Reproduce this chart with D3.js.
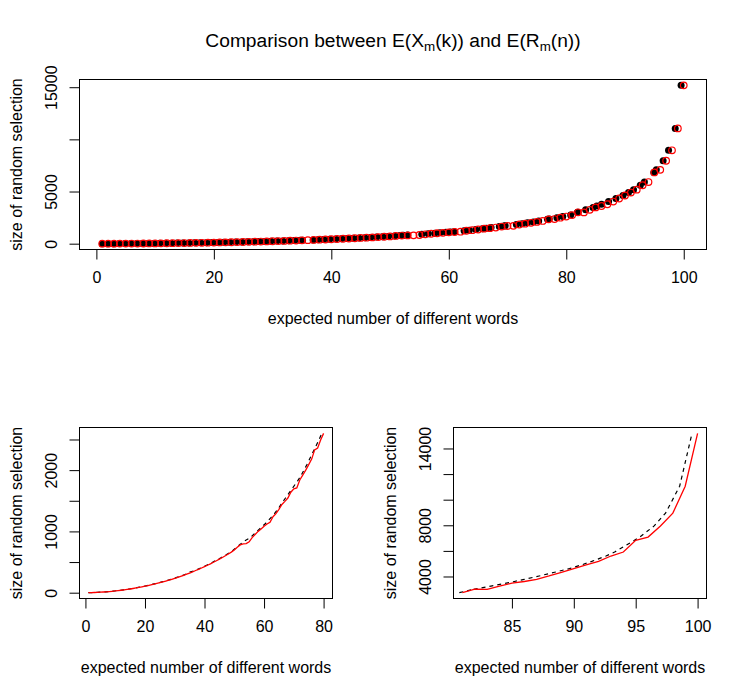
<!DOCTYPE html>
<html><head><meta charset="utf-8">
<script src="https://cdn.jsdelivr.net/npm/d3@7"></script>
<style>body{margin:0;background:#fff} text{font-family:"Liberation Sans",Arial,Helvetica,sans-serif;fill:#000}</style>
</head><body><svg id="c" width="747" height="698"></svg>
<script>
// ---- data ----
// k: expected number of different words
const kValues = d3.range(1, 101);
// E(X_m(k)) : red
const expectedX = [
  1, 2, 3.5, 5.5, 8, 11, 14.5, 18.5, 23, 28,
  33.5, 39.5, 46, 53, 60.5, 68.5, 77, 86, 95.5, 105.5,
  116, 127, 138.5, 150.5, 163, 176, 189.5, 203.5, 218, 233,
  249, 266, 283.5, 301.5, 320.5, 338, 362, 381, 402.5, 424.5,
  447.5, 471.5, 496.5, 522, 548, 575, 603, 632, 662, 696,
  740, 780, 795, 800, 830, 900, 950, 1000, 1040, 1085,
  1120, 1150, 1240, 1290, 1360, 1440, 1490, 1545, 1640, 1695,
  1710, 1840, 1920, 2000, 2090, 2180, 2330, 2360, 2490, 2600,
  2740, 3010, 3000, 3250, 3480, 3610, 3780, 4040, 4330, 4620,
  4900, 5180, 5600, 5910, 6830, 7080, 7950, 8950, 11050, 15180
];
// E(R_m(n)) evaluated at n = the sizes above : black (x values)
const expectedR = [
  1.0, 1.97, 2.95, 3.93, 4.9, 5.88, 6.86, 7.84, 8.82, 9.8,
  10.78, 11.77, 12.75, 13.74, 14.73, 15.72, 16.71, 17.7, 18.7, 19.7,
  20.7, 21.7, 22.7, 23.7, 24.7, 25.7, 26.7, 27.7, 28.7, 29.7,
  30.7, 31.7, 32.7, 33.7, 34.7, 35.1, 36.9, 37.7, 38.7, 39.7,
  40.7, 41.7, 42.7, 43.7, 44.7, 45.7, 46.7, 47.7, 48.7, 49.7,
  50.75, 51.7, 52.1, 52.25, 53.0, 55.4, 56.5, 57.6, 58.5, 59.5,
  60.3, 60.9, 62.6, 63.5, 64.6, 65.7, 66.4, 67.2, 68.6, 69.4,
  69.6, 71.5, 72.5, 73.4, 74.4, 75.3, 76.8, 77.1, 78.4, 79.4,
  80.75, 81.95, 81.9, 83.3, 84.55, 85.2, 86.0, 87.2, 88.45, 89.65,
  90.6, 91.45, 92.6, 93.3, 94.9, 95.33, 96.49, 97.41, 98.55, 99.55
];
// ticks and labels
const topXTicks = [0, 20, 40, 60, 80, 100];
const topXLabels = ["0", "20", "40", "60", "80", "100"];
const topYTicks = [0, 5000, 10000, 15000];
const topYLabels = ["0", "5000", "", "15000"];
const blXTicks = [0, 20, 40, 60, 80];
const blXLabels = ["0", "20", "40", "60", "80"];
const blYTicks = [0, 500, 1000, 1500, 2000, 2500];
const blYLabels = ["0", "", "1000", "", "2000", ""];
const brXTicks = [85, 90, 95, 100];
const brXLabels = ["85", "90", "95", "100"];
const brYTicks = [4000, 6000, 8000, 10000, 12000, 14000];
const brYLabels = ["4000", "", "8000", "", "", "14000"];
const xTitle = "expected number of different words";
const yTitle = "size of random selection";

// ---- drawing ----
const svg = d3.select("#c");
const rows = kValues.map((k, i) => ({k, y: expectedX[i], r: expectedR[i]}));

function rDomain(v) { const [a, b] = d3.extent(v); const r = b - a; return [a - 0.04 * r, b + 0.04 * r]; }

let clipId = 0;
function panel(o) {
  const data = rows.slice(o.from, o.to);
  const x = d3.scaleLinear().domain(rDomain(data.map(d => d.k))).range([o.L, o.R]);
  const y = d3.scaleLinear().domain(rDomain(data.map(d => d.y))).range([o.B, o.T]);
  const g = svg.append("g");
  const id = "clip" + (clipId++);
  svg.append("clipPath").attr("id", id).append("rect")
    .attr("x", o.L).attr("y", o.T).attr("width", o.R - o.L).attr("height", o.B - o.T);
  const plot = g.append("g").attr("clip-path", `url(#${id})`);
  if (o.type === "points") {
    plot.selectAll("circle.b").data(data).join("circle")
      .attr("cx", d => x(d.r)).attr("cy", d => y(d.y)).attr("r", 3.5).attr("fill", "#000");
    plot.selectAll("circle.r").data(data).join("circle")
      .attr("cx", d => x(d.k)).attr("cy", d => y(d.y)).attr("r", 3.3)
      .attr("fill", "none").attr("stroke", "#ff0000").attr("stroke-width", 1.2);
  } else {
    plot.append("path").datum(data)
      .attr("d", d3.line().x(d => x(d.r)).y(d => y(d.y)))
      .attr("fill", "none").attr("stroke", "#000").attr("stroke-width", 1.2)
      .attr("stroke-dasharray", "4,4");
    plot.append("path").datum(data)
      .attr("d", d3.line().x(d => x(d.k)).y(d => y(d.y)))
      .attr("fill", "none").attr("stroke", "#ff0000").attr("stroke-width", 1.3);
  }
  // box
  g.append("rect").attr("x", o.L + 0.5).attr("y", o.T + 0.5)
    .attr("width", o.R - o.L - 1).attr("height", o.B - o.T - 1)
    .attr("fill", "none").attr("stroke", "#000").attr("stroke-width", 1);
  // x axis
  const xa = g.append("g").attr("transform", `translate(0,${o.B - 0.5})`)
    .call(d3.axisBottom(x).tickValues(o.xt).tickFormat((d, i) => o.xl[i])
      .tickSizeOuter(0).tickSizeInner(10).tickPadding(12));
  xa.select(".domain").remove();
  xa.selectAll("line").attr("stroke", "#000");
  xa.selectAll("text").attr("font-size", 16).attr("font-family", null).attr("fill", "#000");
  // y axis
  const ya = g.append("g").attr("transform", `translate(${o.L + 0.5},0)`)
    .call(d3.axisLeft(y).tickValues(o.yt).tickFormat((d, i) => o.yl[i])
      .tickSizeOuter(0).tickSizeInner(10));
  ya.select(".domain").remove();
  ya.selectAll("line").attr("stroke", "#000");
  ya.selectAll("text").attr("font-size", 16).attr("font-family", null).attr("fill", "#000")
    .attr("x", null).attr("dy", "0.35em").attr("text-anchor", "middle")
    .attr("transform", "translate(-28,0) rotate(-90)");
  // titles
  g.append("text").attr("x", (o.L + o.R) / 2).attr("y", o.B + 68).attr("dy", "0.35em")
    .attr("text-anchor", "middle").attr("font-size", 16).text(xTitle);
  g.append("text").attr("transform", `translate(${o.L - 63},${(o.T + o.B) / 2}) rotate(-90)`)
    .attr("dy", "0.35em").attr("text-anchor", "middle").attr("font-size", 16).text(yTitle);
  return {x, y};
}

panel({L: 79, R: 707, T: 79, B: 250, from: 0, to: 100, type: "points",
  xt: topXTicks, xl: topXLabels, yt: topYTicks, yl: topYLabels});
panel({L: 79, R: 333, T: 427, B: 599, from: 0, to: 80, type: "lines",
  xt: blXTicks, xl: blXLabels, yt: blYTicks, yl: blYLabels});
panel({L: 453, R: 707, T: 427, B: 599, from: 80, to: 100, type: "lines",
  xt: brXTicks, xl: brXLabels, yt: brYTicks, yl: brYLabels});

// main title with subscripts
const t = svg.append("text").attr("x", 393).attr("y", 47).attr("text-anchor", "middle").attr("font-size", 19.2);
t.append("tspan").text("Comparison between E(X");
t.append("tspan").attr("font-size", 13.4).attr("dy", 4).text("m");
t.append("tspan").attr("dy", -4).text("(k)) and E(R");
t.append("tspan").attr("font-size", 13.4).attr("dy", 4).text("m");
t.append("tspan").attr("dy", -4).text("(n))");
</script></body></html>
